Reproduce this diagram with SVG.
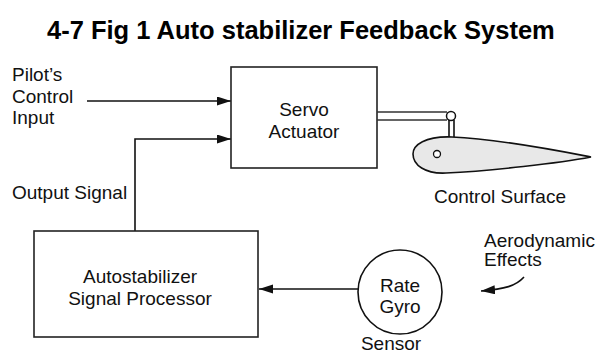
<svg xmlns="http://www.w3.org/2000/svg" width="598" height="361" viewBox="0 0 598 361">
  <defs>
    <marker id="arrow" markerUnits="userSpaceOnUse" markerWidth="15" markerHeight="10" refX="14" refY="4.5" orient="auto">
      <path d="M0,0 L14,4.5 L0,9 Z" fill="#111"/>
    </marker>
    <style>
      .lbl { font-family: "Liberation Sans", Arial, sans-serif; font-size: 19px; fill: #111; }
      .mid { text-anchor: middle; }
      .title { font-family: "Liberation Sans", Arial, sans-serif; font-size: 25.5px; font-weight: bold; fill: #000; }
      .box { fill: #fff; stroke: #222; stroke-width: 1.6; }
      .wire { fill: none; stroke: #111; stroke-width: 1.6; }
    </style>
  </defs>
  <rect width="598" height="361" fill="#fff"/>

  <text class="title" x="47" y="39">4-7 Fig 1 Auto stabilizer Feedback System</text>

  <!-- signal lines -->
  <g id="connectors">
    <path class="wire" d="M87,101 H231" marker-end="url(#arrow)"/>
    <path class="wire" d="M135,231 V139 H231" marker-end="url(#arrow)"/>
    <path class="wire" d="M358,289 H259" marker-end="url(#arrow)"/>
    <path class="wire" d="M524,277 C516,286 505,289 481,291" marker-end="url(#arrow)"/>
  </g>

  <g id="pilot-input">
    <text class="lbl" x="12" y="81">Pilot’s</text>
    <text class="lbl" x="12" y="103">Control</text>
    <text class="lbl" x="12" y="124">Input</text>
  </g>

  <g id="output-signal">
    <text class="lbl" x="12" y="199">Output Signal</text>
  </g>

  <g id="servo-actuator">
    <rect class="box" x="231" y="67" width="146" height="101"/>
    <text class="lbl mid" x="304" y="116">Servo</text>
    <text class="lbl mid" x="304" y="138">Actuator</text>
  </g>

  <g id="control-surface">
    <!-- push rod and hinge -->
    <path d="M377,112 H447 M377,120 H447" fill="none" stroke="#333" stroke-width="1.4"/>
    <path d="M449,120 V138 M454,120 V138" fill="none" stroke="#111" stroke-width="1.6"/>
    <circle cx="451" cy="116" r="4.5" fill="#fff" stroke="#111" stroke-width="1.5"/>
    <!-- airfoil -->
    <path d="M591,157 C560,151 500,139 452,137 C425,136 413,145 413,154 C413,165 425,174 446,173 C490,171 560,163 591,157 Z" fill="#e8e8e8" stroke="#111" stroke-width="1.6"/>
    <circle cx="437" cy="154" r="3.5" fill="#fff" stroke="#111" stroke-width="1.3"/>
    <text class="lbl mid" x="500" y="203">Control Surface</text>
  </g>

  <g id="signal-processor">
    <rect class="box" x="34" y="231" width="224" height="106"/>
    <text class="lbl mid" x="140" y="283">Autostabilizer</text>
    <text class="lbl mid" x="140" y="305">Signal Processor</text>
  </g>

  <g id="rate-gyro">
    <circle cx="400" cy="292" r="42" fill="#fff" stroke="#111" stroke-width="1.6"/>
    <text class="lbl mid" x="400" y="292">Rate</text>
    <text class="lbl mid" x="400" y="313">Gyro</text>
    <text class="lbl mid" x="391" y="350">Sensor</text>
  </g>

  <g id="aerodynamic-effects">
    <text class="lbl" x="484" y="247">Aerodynamic</text>
    <text class="lbl" x="484" y="266">Effects</text>
  </g>
</svg>
